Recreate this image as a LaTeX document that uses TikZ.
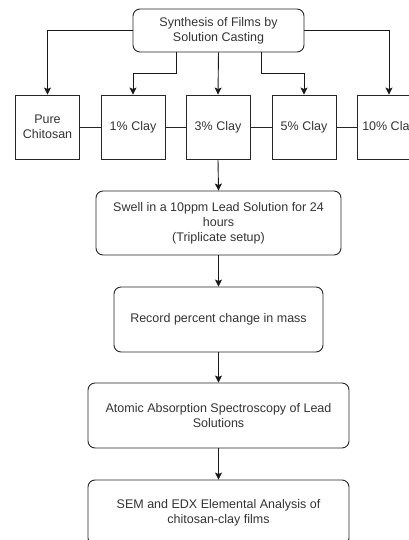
\documentclass[tikz,border=0pt]{standalone}
\usepackage{fontspec}
\setmainfont{Liberation Sans}
\usetikzlibrary{arrows.meta}
\tikzset{
	stepround/.style = {draw = black!85, line width = 0.9pt, rounded corners = 7pt, align = center, text = black!80, inner sep = 0pt},
	claybox/.style = {draw = black!85, line width = 0.9pt, minimum width = 64pt, minimum height = 64pt, align = center, text = black!80, inner sep = 0pt},
	arr/.style = {draw = black!90, line width = 0.9pt, -{Stealth[length = 7pt, width = 7pt, inset = 1.5pt]}},
	link/.style = {draw = black!85, line width = 0.9pt}
}
\begin{document}
\begin{tikzpicture}[x = 1pt, y = -1pt, font = \fontsize{12.5}{15}\selectfont]
		\useasboundingbox (0,0) rectangle (409,540);
		\clip (0,0) rectangle (409,540);
		% top step
		\node[stepround, minimum width = 171pt, minimum height = 43pt] (cast) at (218.5,30.5) {Synthesis of Films by\\Solution Casting};
		% the five films
		\node[claybox] (pure) at (47.5,127) {Pure\\Chitosan};
		\node[claybox] (one) at (133,127) {1\% Clay};
		\node[claybox] (three) at (218,127) {3\% Clay};
		\node[claybox] (five) at (304,127) {5\% Clay};
		\node[claybox] (ten) at (389,127) {10\% Clay};
		% steps below
		\node[stepround, minimum width = 245pt, minimum height = 64pt] (swell) at (218.5,223) {Swell in a 10ppm Lead Solution for 24\\hours\\(Triplicate setup)};
		\node[stepround, minimum width = 209pt, minimum height = 65pt] (mass) at (218.5,319.5) {Record percent change in mass};
		\node[stepround, minimum width = 261pt, minimum height = 65pt] (aas) at (218.5,415.5) {Atomic Absorption Spectroscopy of Lead\\Solutions};
		\node[stepround, minimum width = 261pt, minimum height = 65pt] (sem) at (218.5,512.5) {SEM and EDX Elemental Analysis of\\chitosan-clay films};
		
		\draw[arr] (cast.west) -| (pure.north);
		\draw[arr] (cast.east) -| (ten.north);
		\draw[arr] ([xshift = -42.5pt]cast.south) -- ++(0,21) -| (one.north);
		\draw[arr] (cast.south) -- (three.north);
		\draw[arr] ([xshift = 42.5pt]cast.south) -- ++(0,21) -| (five.north);
		\draw[link] (pure) -- (one);
		\draw[link] (one) -- (three);
		\draw[link] (three) -- (five);
		\draw[link] (five) -- (ten);
		\draw[arr] (three.south) -- (swell.north);
		\draw[arr] (swell.south) -- (mass.north);
		\draw[arr] (mass.south) -- (aas.north);
		\draw[arr] (aas.south) -- (sem.north);
		
	\end{tikzpicture}
\end{document}
